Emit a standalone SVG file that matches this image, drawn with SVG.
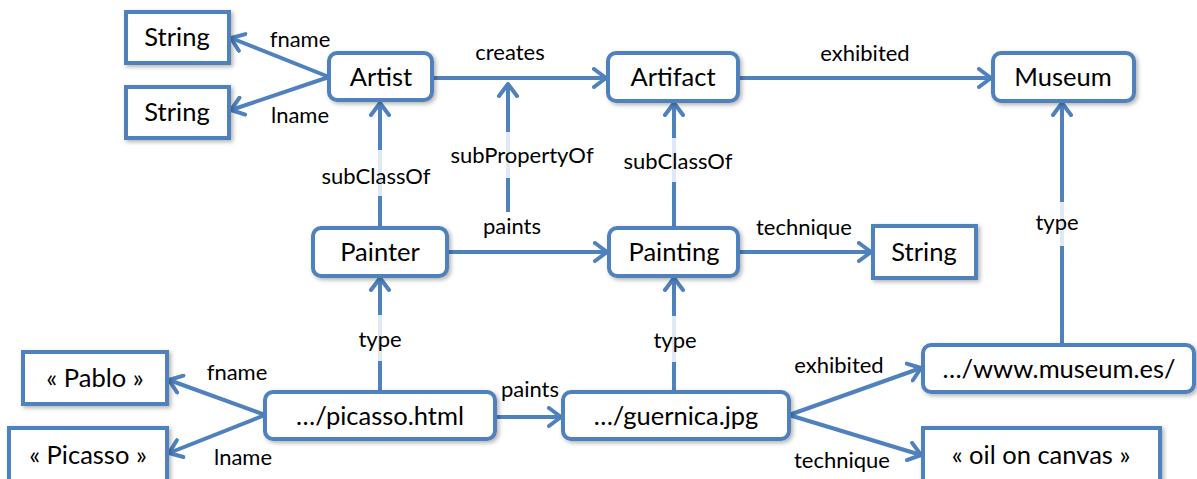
<svg xmlns="http://www.w3.org/2000/svg" width="1197" height="479" viewBox="0 0 1197 479">
<style>
.box{fill:#fff;stroke:#4f81bd;stroke-width:4;filter:url(#sh)}
.nt{font-family:Lato,"Liberation Sans",sans-serif;font-size:25.5px;fill:#000;text-anchor:middle}
.lt{font-family:Lato,"Liberation Sans",sans-serif;font-size:22px;fill:#000;text-anchor:middle}
.ln{stroke:#4f81bd;stroke-width:4;fill:none;marker-end:url(#ah)}
.bg{fill:#fff;opacity:0.82}
</style>
<defs>
<filter id="sh" x="-10%" y="-20%" width="130%" height="150%">
<feDropShadow dx="2" dy="2" stdDeviation="2" flood-color="#000" flood-opacity="0.3"/>
</filter>
<marker id="ah" markerUnits="userSpaceOnUse" viewBox="0 0 16 22" refX="14" refY="11" markerWidth="16" markerHeight="22" orient="auto">
<path d="M2,2 L14,11 L2,20" fill="none" stroke="#4f81bd" stroke-width="4" stroke-linecap="round" stroke-linejoin="round"/>
</marker>
</defs>
<g id="connectors">
<line class="ln" x1="329" y1="77" x2="231" y2="38"/>
<line class="ln" x1="329" y1="77" x2="231" y2="110"/>
<line class="ln" x1="432" y1="78" x2="606" y2="78"/>
<line class="ln" x1="738" y1="78" x2="991" y2="78"/>
<line class="ln" x1="380" y1="228" x2="380" y2="103"/>
<line class="ln" x1="508" y1="212" x2="508" y2="84"/>
<line class="ln" x1="674" y1="228" x2="674" y2="103"/>
<line class="ln" x1="447" y1="252" x2="607" y2="252"/>
<line class="ln" x1="738" y1="252" x2="871" y2="252"/>
<line class="ln" x1="1062" y1="345" x2="1062" y2="103"/>
<line class="ln" x1="380" y1="392" x2="380" y2="278"/>
<line class="ln" x1="674" y1="392" x2="674" y2="278"/>
<line class="ln" x1="265" y1="415" x2="169" y2="380"/>
<line class="ln" x1="265" y1="415" x2="169" y2="453"/>
<line class="ln" x1="495" y1="417" x2="561" y2="417"/>
<line class="ln" x1="789" y1="415" x2="921" y2="368"/>
<line class="ln" x1="789" y1="415" x2="921" y2="455"/>
<rect class="bg" x="322" y="150" width="108" height="46"/>
<rect class="bg" x="448" y="132" width="148" height="46"/>
<rect class="bg" x="624" y="138" width="110" height="44"/>
<rect class="bg" x="1034" y="202" width="48" height="44"/>
<rect class="bg" x="356" y="315" width="48" height="46"/>
<rect class="bg" x="651" y="316" width="48" height="46"/>
<text class="lt" x="300" y="47">fname</text>
<text class="lt" x="300" y="123">lname</text>
<text class="lt" x="510" y="60">creates</text>
<text class="lt" x="865" y="61">exhibited</text>
<text class="lt" x="376" y="184">subClassOf</text>
<text class="lt" x="522" y="163">subPropertyOf</text>
<text class="lt" x="678" y="169">subClassOf</text>
<text class="lt" x="512" y="234">paints</text>
<text class="lt" x="804" y="235">technique</text>
<text class="lt" x="1057" y="230">type</text>
<text class="lt" x="380" y="347">type</text>
<text class="lt" x="675" y="348">type</text>
<text class="lt" x="237" y="380">fname</text>
<text class="lt" x="243" y="465">lname</text>
<text class="lt" x="530" y="397">paints</text>
<text class="lt" x="839" y="373">exhibited</text>
<text class="lt" x="842" y="468">technique</text>
</g>
<g id="string1"><rect class="box" x="126" y="12" width="103" height="51"/><text class="nt" x="177" y="46">String</text></g>
<g id="string2"><rect class="box" x="126" y="87" width="103" height="51"/><text class="nt" x="177" y="121">String</text></g>
<g id="artist"><rect class="box" x="329" y="53" width="103" height="47" rx="8"/><text class="nt" x="381" y="86">Artist</text></g>
<g id="artifact"><rect class="box" x="608" y="53" width="130" height="48" rx="8"/><text class="nt" x="673" y="86">Artifact</text></g>
<g id="museum"><rect class="box" x="993" y="53" width="141" height="48" rx="8"/><text class="nt" x="1063" y="86">Museum</text></g>
<g id="painter"><rect class="box" x="313" y="228" width="134" height="48" rx="8"/><text class="nt" x="380" y="261">Painter</text></g>
<g id="painting"><rect class="box" x="609" y="228" width="129" height="48" rx="8"/><text class="nt" x="674" y="261">Painting</text></g>
<g id="string3"><rect class="box" x="873" y="226" width="103" height="52"/><text class="nt" x="924" y="261">String</text></g>
<g id="pablo"><rect class="box" x="23" y="352" width="144" height="52"/><text class="nt" x="95" y="387">« Pablo »</text></g>
<g id="picasso"><rect class="box" x="9" y="428" width="158" height="62"/><text class="nt" x="88" y="464">« Picasso »</text></g>
<g id="picasso-html"><rect class="box" x="265" y="392" width="230" height="47" rx="8"/><text class="nt" x="380" y="425">…/picasso.html</text></g>
<g id="guernica"><rect class="box" x="563" y="392" width="226" height="47" rx="8"/><text class="nt" x="676" y="425">…/guernica.jpg</text></g>
<g id="museum-es"><rect class="box" x="923" y="345" width="271" height="47" rx="8"/><text class="nt" x="1059" y="378">…/www.museum.es/</text></g>
<g id="oil"><rect class="box" x="923" y="428" width="237" height="62"/><text class="nt" x="1041" y="464">« oil on canvas »</text></g>
</svg>
